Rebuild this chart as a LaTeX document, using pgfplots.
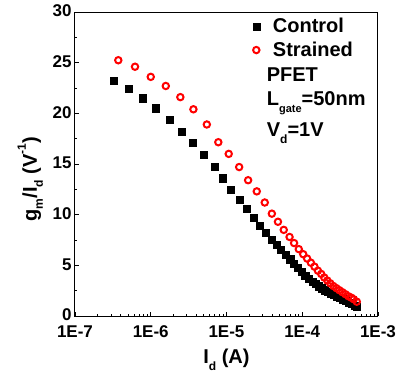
\documentclass[border=0pt]{standalone}
\usepackage{fontspec}
\setmainfont{Liberation Sans}
\usepackage{pgfplots}
\pgfplotsset{compat=1.18}
\begin{document}
\begin{tikzpicture}
\begin{axis}[
 at={(0,0)}, anchor=south west,
 scale only axis, width=303pt, height=304pt,
 xmode=log, xmin=1e-7, xmax=1e-3, ymin=0, ymax=30,
 xtick={1e-7,1e-6,1e-5,1e-4,1e-3},
 xticklabels={1E-7,1E-6,1E-5,1E-4,1E-3},
 ytick={0,5,10,15,20,25,30},
 minor ytick={2.5,7.5,12.5,17.5,22.5,27.5},
 tick align=inside, xtick pos=bottom, ytick pos=left,
 major tick length=4.5pt, minor tick length=2.5pt,
 axis line style={line width=1pt},
 every tick/.style={line width=0.8pt,black},
 /pgf/number format/assume math mode=true,
 ticklabel style={font=\bfseries\fontsize{17}{17}\selectfont},
 xticklabel style={yshift=-6pt},
 yticklabel style={yshift=1pt},
 xlabel={I\raisebox{-0.35em}{\fontsize{12}{12}\selectfont d} (A)},
 ylabel={g\raisebox{-0.3em}{\fontsize{12}{12}\selectfont m}/I\raisebox{-0.3em}{\fontsize{12}{12}\selectfont d} (V\raisebox{0.55em}{\fontsize{12}{12}\selectfont -1})},
 label style={font=\bfseries\fontsize{20}{24}\selectfont},
 xlabel style={at={(axis description cs:0.5,-0.1546)}, anchor=base},
 ylabel style={at={(axis description cs:-0.1254,0.45)}, anchor=base},
 legend style={draw=none, fill=none, at={(axis description cs:0.576,0.998)}, anchor=north west,
   font=\bfseries\fontsize{20}{24}\selectfont,
   nodes={text height=16pt, text depth=3.5pt},
   /tikz/every odd column/.append style={column sep=11pt}},
 legend cell align=left,
]
\addplot[only marks, mark=square*, mark size=3.6pt, black] table {
3.27e-7 23.2
5.07e-7 22.4
7.83e-7 21.5
1.175e-6 20.5
1.76e-6 19.35
2.57e-6 18.2
3.59e-6 17.1
5.06e-6 15.9
6.92e-6 14.7
8.91e-6 13.6
1.148e-5 12.5
1.479e-5 11.5
1.862e-5 10.56
2.265e-5 9.7
2.72e-5 8.9
3.33e-5 8.2
3.98e-5 7.55
4.57e-5 7.05
5.25e-5 6.55
6.03e-5 6.05
6.92e-5 5.6
7.76e-5 5.2
8.71e-5 4.75
9.77e-5 4.35
1.096e-4 4.0
1.23e-4 3.7
1.38e-4 3.4
1.514e-4 3.15
1.66e-4 2.95
1.82e-4 2.75
1.995e-4 2.55
2.19e-4 2.4
2.40e-4 2.25
2.63e-4 2.1
2.88e-4 1.95
3.16e-4 1.8
3.47e-4 1.65
3.80e-4 1.5
4.17e-4 1.35
4.57e-4 1.2
4.90e-4 1.05
5.25e-4 0.95
};
\addlegendentry{Control}
\addplot[only marks, mark=o, mark size=3.2pt, red, line width=2pt] table {
3.73e-7 25.24
6.2e-7 24.6
1.0e-6 23.6
1.58e-6 22.7
2.46e-6 21.6
3.66e-6 20.4
5.5e-6 18.9
7.8e-6 17.15
1.07e-5 16.0
1.47e-5 14.7
1.93e-5 13.4
2.51e-5 12.3
3.2e-5 11.2
3.97e-5 10.1
4.78e-5 9.3
5.7e-5 8.5
6.8e-5 7.8
7.8e-5 7.2
9.0e-5 6.6
1.03e-4 6.1
1.16e-4 5.67
1.3e-4 5.26
1.45e-4 4.87
1.61e-4 4.47
1.78e-4 4.15
1.95e-4 3.8
2.14e-4 3.5
2.34e-4 3.23
2.57e-4 2.96
2.82e-4 2.75
3.09e-4 2.55
3.39e-4 2.35
3.72e-4 2.15
4.07e-4 1.95
4.47e-4 1.8
4.79e-4 1.65
5.25e-4 1.41
};
\addlegendentry{Strained}
\node[anchor=base west, font=\bfseries\fontsize{20}{24}\selectfont] at (axis description cs:0.6215,0.773) {PFET};
\node[anchor=base west, font=\bfseries\fontsize{20}{24}\selectfont] at (axis description cs:0.6215,0.691) {L\raisebox{-0.35em}{\fontsize{11}{11}\selectfont gate}=50nm};
\node[anchor=base west, font=\bfseries\fontsize{20}{24}\selectfont] at (axis description cs:0.6215,0.590) {V\raisebox{-0.35em}{\fontsize{12}{12}\selectfont d}=1V};
\end{axis}
\pgfresetboundingbox
\path (-75pt,-60pt) rectangle (330pt,316pt);
\end{tikzpicture}
\end{document}
